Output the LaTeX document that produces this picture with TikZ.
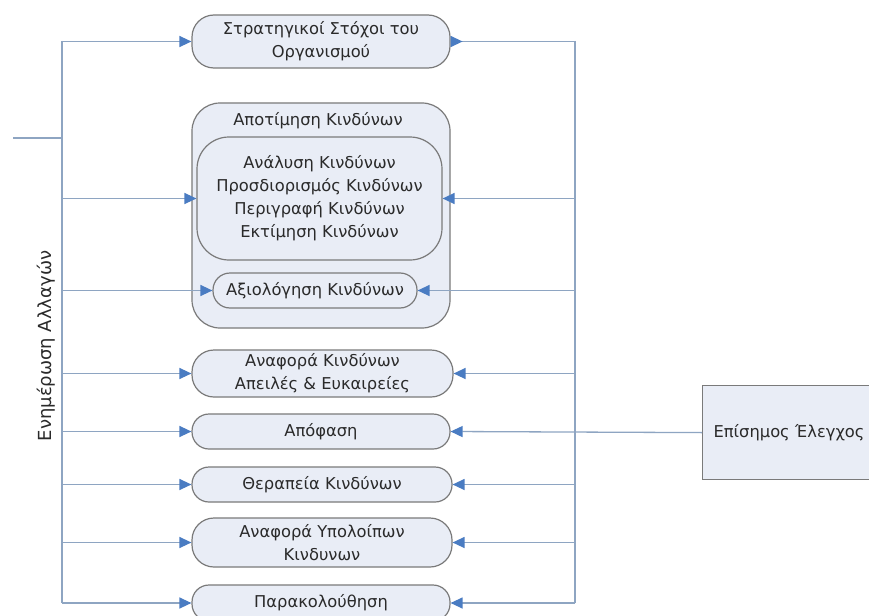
\documentclass[tikz,border=0pt]{standalone}
\usepackage{fontspec}
\setmainfont{DejaVu Sans}
\usetikzlibrary{arrows.meta}
\definecolor{boxfill}{HTML}{E9EDF6}
\definecolor{boxline}{HTML}{7A7A7A}
\definecolor{conn}{HTML}{8EA5C2}
\definecolor{tipc}{HTML}{4A7CC2}
\definecolor{txt}{HTML}{2A2A2A}
\tikzset{
  pill/.style={draw=boxline, fill=boxfill, line width=1.2pt, inner sep=0pt,
    align=center, text=txt, font=\fontsize{16.3}{23}\selectfont},
  conline/.style={draw=conn, line width=1.3pt},
  arr/.style={conline, -{Triangle[length=12pt,width=11pt,fill=tipc,color=tipc]}},
  rarr/.style={conline, {Triangle[reversed,length=12pt,width=11pt,fill=tipc,color=tipc]}-},
  lbl/.style={text=txt, font=\fontsize{16.3}{23}\selectfont, inner sep=0pt}
}
\begin{document}
\begin{tikzpicture}[x=1pt,y=-1pt]
\clip (0,0) rectangle (869,615);
\fill[white] (0,0) rectangle (869,615);
% trunk coordinates
\coordinate (ltop) at (62,41);
\coordinate (lbot) at (62,603);
\coordinate (rtop) at (575,41);
\coordinate (rbot) at (575,603);
\coordinate (stub) at (13,138);
% nodes
\node[pill, rounded corners=22pt, minimum width=258pt, minimum height=53pt] (strat) at (321,41.5) {Στρατηγικοί Στόχοι του\\Οργανισμού};
\node[pill, rounded corners=28pt, minimum width=258pt, minimum height=225pt] (apot) at (321,215.5) {};
\node[lbl] (apottitle) at (318,121) {Αποτίμηση Κινδύνων};
\node[pill, rounded corners=32pt, minimum width=245pt, minimum height=123pt] (inner) at (319.5,198.5) {Ανάλυση Κινδύνων\\Προσδιορισμός Κινδύνων\\Περιγραφή Κινδύνων\\Εκτίμηση Κινδύνων};
\node[pill, rounded corners=17pt, minimum width=204pt, minimum height=35pt] (axiol) at (315,290.5) {Αξιολόγηση Κινδύνων};
\node[pill, rounded corners=22pt, minimum width=261pt, minimum height=47pt] (anaf) at (322.5,373.5) {Αναφορά Κινδύνων\\Απειλές \& Ευκαιρείες};
\node[pill, rounded corners=17pt, minimum width=258pt, minimum height=35pt] (apof) at (321,431.5) {Απόφαση};
\node[pill, rounded corners=17pt, minimum width=260pt, minimum height=35pt] (ther) at (322,484.5) {Θεραπεία Κινδύνων};
\node[pill, rounded corners=22pt, minimum width=260pt, minimum height=49pt] (ypol) at (322,542.5) {Αναφορά Υπολοίπων\\Κινδυνων};
\node[pill, rounded corners=17pt, minimum width=258pt, minimum height=36pt] (parak) at (321,603) {Παρακολούθηση};
\node[draw=boxline, fill=boxfill, line width=1.2pt, anchor=north west, minimum width=240pt, minimum height=94pt,
  inner xsep=11pt, text width=218pt, align=left, text=txt, font=\fontsize{16.3}{23}\selectfont] (official) at (702,385) {Επίσημος Έλεγχος};
\node[lbl, rotate=90, font=\fontsize{18}{20}\selectfont] (update) at (46,346) {Ενημέρωση Αλλαγών};
% trunks
\draw[conline] (ltop) -- (lbot);
\draw[conline] (rtop) -- (rbot);
\draw[conline] (stub) -- (stub -| ltop);
% left arrows
\draw[arr] (strat.west -| ltop) -- (strat.west);
\draw[arr] (inner.west -| ltop) -- (inner.west);
\draw[arr] (axiol.west -| ltop) -- (axiol.west);
\draw[arr] (anaf.west -| ltop) -- (anaf.west);
\draw[arr] (apof.west -| ltop) -- (apof.west);
\draw[arr] (ther.west -| ltop) -- (ther.west);
\draw[arr] (ypol.west -| ltop) -- (ypol.west);
\draw[arr] (parak.west -| ltop) -- (parak.west);
% right arrows
\draw[rarr] (strat.east) -- (strat.east -| rtop);
\draw[arr] (inner.east -| rtop) -- (inner.east);
\draw[arr] (axiol.east -| rtop) -- (axiol.east);
\draw[arr] (anaf.east -| rtop) -- (anaf.east);
\draw[arr] (official.west) -- (apof.east);
\draw[arr] (ther.east -| rtop) -- (ther.east);
\draw[arr] (ypol.east -| rtop) -- (ypol.east);
\draw[arr] (parak.east -| rtop) -- (parak.east);
\end{tikzpicture}
\end{document}
